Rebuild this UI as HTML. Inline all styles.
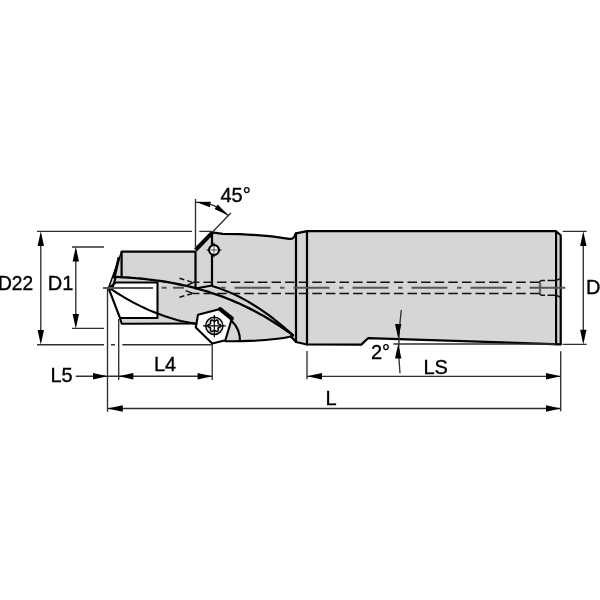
<!DOCTYPE html>
<html><head><meta charset="utf-8"><style>
html,body{margin:0;padding:0;background:#fff;width:600px;height:600px;overflow:hidden}
svg{display:block;will-change:transform}
text{font-family:"Liberation Sans",sans-serif;font-size:20px;fill:#000;stroke:#000;stroke-width:0.35px}
</style></head><body>
<svg width="600" height="600" viewBox="0 0 600 600">
<!-- silhouette -->
<path fill="#d6d6d6" d="M121.6,251.7 L195.5,251.7 L212.3,232.3 L222.7,233.9 C245,234 266,235.2 289,238.8 Q293.5,239.6 295,235 L296,233.3 L307,231.2 L556.1,231.2 L560.7,235.3 L560.7,344.3 L368,338.2 L361.3,344.6 L307,344.5 L296,342 L291,336.6 C278,339.6 258,341.3 225.4,341.3 L212.25,343.6 L195.75,327.5 L196.5,323.5 L121.7,323.7 L120,318 L108.5,288 Z"/>
<!-- white tip rect -->
<path fill="#fff" d="M108.5,288 L116,282.5 L157.5,282.5 L157.5,318 L120,318 Z"/>
<!-- pentagon white -->
<path fill="#fff" d="M198,314.75 L220.1,309.1 L231.8,318.5 L225.4,340.3 L212.25,343.6 L195.75,327.5 Z"/>

<g fill="none" stroke="#000" stroke-linejoin="round" stroke-linecap="round">
<!-- shank -->
<path stroke-width="2.2" d="M307,231.2 L556.1,231.2 L560.7,235.3 L560.7,344.3 M556.1,231.2 L556.1,344.3 M307,231.2 L307,344.5 M296,233.3 L296,342 M296,233.3 L307,231.2"/>
<path stroke-width="2.2" d="M560.7,344.3 L368,338.2 L361.3,344.6 L307,344.5 L296,342 L291,336.6"/>
<!-- head top -->
<path stroke-width="2.2" d="M212.3,232.3 L222.7,233.9 C245,234 266,235.2 289,238.8 Q293.5,239.6 295,235 L296,233.3"/>
<!-- chamfer -->
<path stroke-width="4" stroke-linecap="butt" d="M195.5,250 L212.3,232.6"/>
<path stroke-width="2.2" d="M195.5,251.7 L195.5,288.5 L212,285.5 L212,233 M121.6,251.7 L195.5,251.7 M121.6,251.7 L121.6,277"/>
<!-- tip -->
<path stroke-width="1.5" d="M121.6,251.7 L108.5,288"/>
<path stroke-width="2.8" stroke-linecap="butt" d="M119,257.2 L114,278.5"/>
<path stroke-width="2.1" d="M108.5,288 L120,318 L121.7,323.7 L196.5,323.5"/>
<path stroke-width="2.1" d="M116,282.5 L157.5,282.5 L157.5,318 L120,318 M115.8,277 L113,286.5 M108.5,288 L116,282.5"/>
<!-- flute curves -->
<path stroke-width="2.3" d="M115.8,276.9 L119.8,277.1 L123.8,277.3 L127.8,277.5 L131.8,277.8 L135.8,278.2 L139.8,278.5 L143.8,278.9 L147.8,279.4 L151.8,279.8 L155.8,280.4 L159.8,280.9 L163.8,281.5 L167.8,282.2 L171.8,282.9 L175.8,283.7 L179.8,284.5 L183.8,285.3 L187.8,286.2 L191.8,287.2 L195.8,288.2 L199.8,289.3 L203.8,290.5 L207.8,291.7 L211.8,293.0 L215.8,294.3 L219.8,295.7 L223.8,297.2 L227.8,298.8 L231.8,300.4 L235.8,302.1 L239.8,303.8 L243.8,305.7 L247.8,307.6 L251.8,309.6 L255.8,311.7 L259.8,313.9 L263.8,316.1 L267.8,318.5 L271.8,320.9 L275.8,323.4 L279.8,326.0 L283.8,328.7 L287.8,331.5 L291.8,334.4 L293.0,335.3 L291,336.6"/>
<path stroke-width="2.1" d="M212.1,285.9 L216.1,287.2 L220.1,288.5 L224.1,290.1 L228.1,291.7 L232.1,293.4 L236.1,295.3 L240.1,297.3 L244.1,299.4 L248.1,301.7 L252.1,304.0 L256.1,306.5 L260.1,309.1 L264.1,311.9 L268.1,314.7 L272.1,317.7 L276.1,320.8 L280.1,324.0 L284.1,327.4 L288.1,330.8 L292.1,334.4 L293.0,335.2"/>
<path stroke-width="2.1" d="M109.0,287.7 L113.0,290.4 L117.0,293.0 L121.0,295.4 L125.0,297.8 L129.0,300.1 L133.0,302.3 L137.0,304.4 L141.0,306.4 L145.0,308.3 L149.0,310.1 L153.0,311.7 L157.0,313.3 L161.0,314.8 L165.0,316.3 L169.0,317.6 L173.0,318.8 L177.0,319.9 L181.0,320.9 L185.0,321.8 L189.0,322.6 L193.0,323.3 L195.5,323.7"/>
<!-- bottom of head -->
<path stroke-width="2.1" d="M291,336.6 C278,339.6 258,341.3 225.4,341.3"/>
<!-- pentagon -->
<path stroke-width="2.1" d="M220.1,309.1 L198,314.75 L195.75,327.5 L212.25,343.6 L225.4,340.3 L231.8,318.5"/>
<path stroke-width="4.2" d="M220.1,309.1 L231.8,318.5"/>
<path stroke-width="2.2" d="M231.8,321 A28,28 0 0 1 240,341"/>
</g>
<!-- screw -->
<g fill="none" stroke="#000">
<circle cx="214.3" cy="325.8" r="8.6" stroke-width="1.5" fill="#dcdcdc"/>
<path stroke-width="1.5" fill="#fff" d="M220.70,325.80 L220.54,326.35 L220.11,326.82 L219.52,327.20 L218.90,327.48 L218.41,327.72 L218.11,328.00 L218.01,328.40 L218.05,328.95 L218.12,329.62 L218.09,330.32 L217.89,330.93 L217.50,331.34 L216.95,331.48 L216.32,331.34 L215.70,331.02 L215.15,330.63 L214.70,330.32 L214.30,330.20 L213.90,330.32 L213.45,330.63 L212.90,331.02 L212.28,331.34 L211.65,331.48 L211.10,331.34 L210.71,330.93 L210.51,330.32 L210.48,329.62 L210.55,328.95 L210.59,328.40 L210.49,328.00 L210.19,327.72 L209.70,327.48 L209.08,327.20 L208.49,326.82 L208.06,326.35 L207.90,325.80 L208.06,325.25 L208.49,324.78 L209.08,324.40 L209.70,324.12 L210.19,323.88 L210.49,323.60 L210.59,323.20 L210.55,322.65 L210.48,321.98 L210.51,321.28 L210.71,320.67 L211.10,320.26 L211.65,320.12 L212.28,320.26 L212.90,320.58 L213.45,320.97 L213.90,321.28 L214.30,321.40 L214.70,321.28 L215.15,320.97 L215.70,320.58 L216.32,320.26 L216.95,320.12 L217.50,320.26 L217.89,320.67 L218.09,321.28 L218.12,321.98 L218.05,322.65 L218.01,323.20 L218.11,323.60 L218.41,323.88 L218.90,324.12 L219.52,324.40 L220.11,324.78 L220.54,325.25 Z"/>
<path stroke-width="1.2" d="M203,325.8 L225.8,325.8 M214.3,314.9 L214.3,337.2"/>
<path stroke-width="1.2" d="M206.5,250 L221.5,250 M214,242.8 L214,257.2"/>
<circle cx="214" cy="250" r="4.9" stroke-width="2.2" fill="#fff"/>
<path stroke="#444" stroke-width="1" d="M211,250 L217,250 M214,247 L214,253"/>
</g>
<!-- dashed hole lines -->
<g fill="none" stroke="#111" stroke-width="1.5">
<path stroke-dasharray="9.5 4.1" stroke-dashoffset="3.1" d="M193,282.3 L539,282.3 M193,293.4 L539,293.4"/>
<path d="M179.5,278.2 L193,282.5 M179.5,297.2 L193,293.4" stroke-dasharray="5 3"/>
<path d="M185.5,286.2 L193,282.5 M185.5,290.6 L193,293.4"/>
<path d="M541,280.4 L545,280.4 M547.5,280.4 L555.5,280.4 M541,295.3 L545,295.3 M547.5,295.3 L555.5,295.3 M556.1,280.4 L561,278.4 M556.1,295.3 L561,297.5"/>
<path d="M538.9,282.2 Q540,282.2 541,280.4 M538.9,293.5 Q540,293.5 541,295.3"/>
<path stroke="#666" stroke-width="2.4" d="M540,282.5 L540,293.2"/>
</g>
<!-- center line -->
<path fill="none" stroke="#555" stroke-width="2" d="M103,288 L153,288"/>
<path fill="none" stroke="#555" stroke-width="2" d="M161.7,287.8 L166.7,287.8 M173,287.8 L184,287.8"/>
<path fill="none" stroke="#555" stroke-width="2" stroke-dasharray="4.5 9 36 9.5" d="M221,287.8 L565.3,287.8"/>

<!-- dimension lines -->
<g fill="none" stroke="#303030" stroke-width="1.35">
<!-- D22 -->
<path d="M40.8,236 L40.8,340 M37,231.3 L192,231.3 M199.3,231.3 L212,231.3 M37,344.7 L104,344.7 M111,344.7 L115,344.7 M122.3,344.7 L212,344.7"/>
<!-- D1 -->
<path d="M75.8,250 L75.8,325 M72,247 L104,247 M72,328.4 L104,328.4"/>
<!-- D -->
<path d="M583.3,236 L583.3,340 M562.7,231.3 L586.7,231.3 M562.7,344.4 L586.7,344.4"/>
<!-- 45 -->
<path d="M195.5,199 L195.5,249 M212.3,232.3 L230.8,213 M196.10,202.10 A45,45 0 0 1 227.92,215.28"/>
<!-- ext lines -->
<path d="M107.5,289 L107.5,411.7 M118.7,319 L118.7,380 M212.25,344 L212.25,380 M307,351 L307,379.3 M560.7,351.3 L560.7,411.3"/>
<!-- L5 L4 -->
<path d="M75.8,376.2 L212.25,376.2"/>
<path d="M307,376.3 L560.7,376.3 M107.5,408.5 L560.7,408.5"/>
<!-- 2 deg -->
<path d="M401.3,310 Q397,341 400,373.3 M393.3,344 L556,344"/>
</g>
<!-- arrowheads -->
<g fill="#000" stroke="none">
<path d="M40.8,231.3 L37.6,246 L44,246 Z M40.8,344.7 L37.6,330 L44,330 Z"/>
<path d="M75.8,246.7 L72.6,261.4 L79,261.4 Z M75.8,328.7 L72.6,314 L79,314 Z"/>
<path d="M583.3,231.3 L580.1,246 L586.5,246 Z M583.3,344.4 L580.1,329.7 L586.5,329.7 Z"/>
<path d="M107.5,376.2 L93,373 L93,379.4 Z M118.7,376.2 L133.3,373 L133.3,379.4 Z M212.25,376.2 L197.6,373 L197.6,379.4 Z"/>
<path d="M307,376.3 L322,373.1 L322,379.5 Z M560.7,376.3 L546,373.1 L546,379.5 Z"/>
<path d="M107.5,408.5 L122.8,405.3 L122.8,411.7 Z M560.7,408.5 L546,405.3 L546,411.7 Z"/>
<path d="M398.2,338.5 L395,324 L401.4,324 Z M398.2,344 L395,358.5 L401.4,358.5 Z"/>
<path d="M196.10,202.10 L210.80,201.65 L209.90,207.18 Z M227.92,215.28 L214.57,209.11 L217.84,204.57 Z"/>
</g>
<!-- text -->
<text x="-2" y="289.5" textLength="35.2" lengthAdjust="spacingAndGlyphs">D22</text>
<text x="47.7" y="289.5">D1</text>
<text x="220.5" y="201.5">45°</text>
<text x="50.5" y="381.7">L5</text>
<text x="154" y="371.3">L4</text>
<text x="371" y="358.5">2°</text>
<text x="423.5" y="374">LS</text>
<text x="325.5" y="404.7">L</text>
<text x="586" y="294">D</text>
</svg>
</body></html>
